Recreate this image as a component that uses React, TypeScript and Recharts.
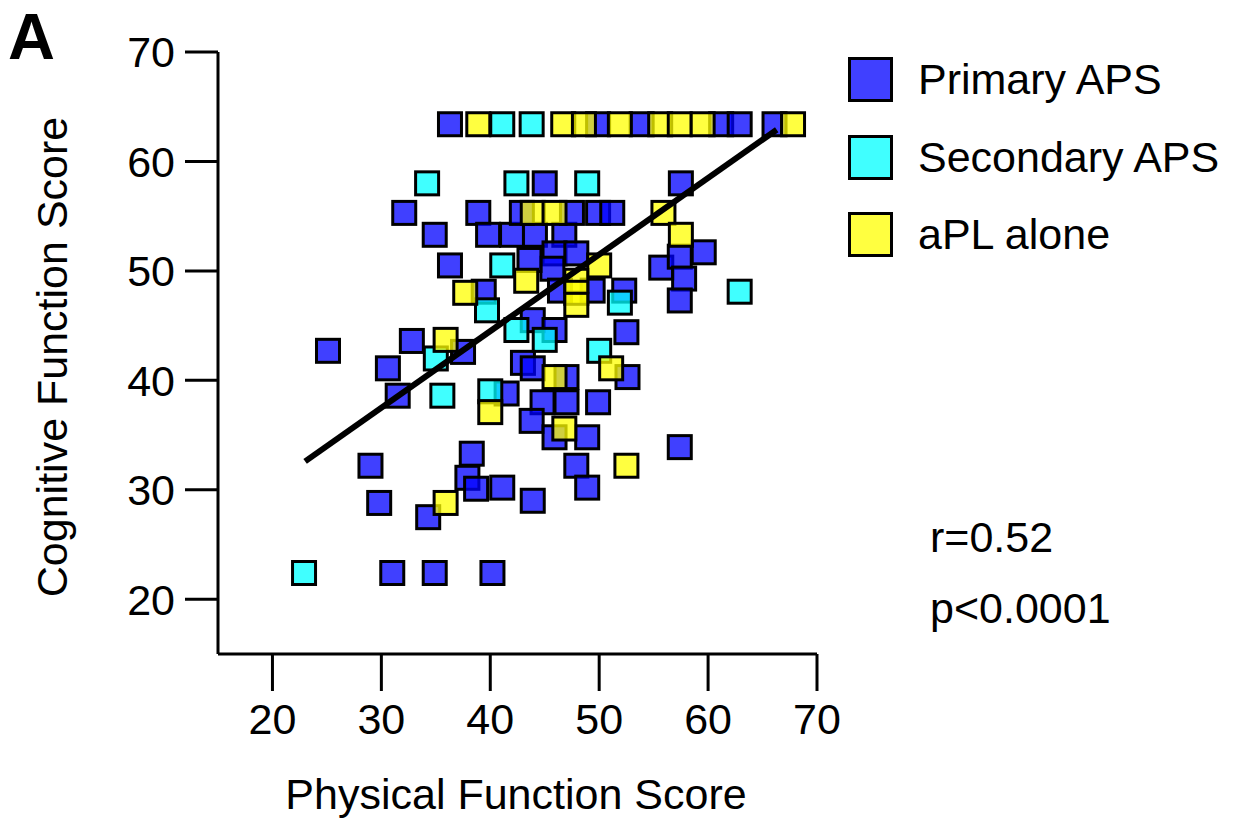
import React from 'react';
import { ScatterChart, Scatter, XAxis, YAxis } from 'recharts';

const primaryAPS = [
  { x: 36.3, y: 63.4 }, { x: 49.9, y: 63.4 }, { x: 53.9, y: 63.4 }, { x: 61.2, y: 63.4 }, { x: 62.9, y: 63.4 }, { x: 66.1, y: 63.4 },
  { x: 32.1, y: 55.3 }, { x: 38.9, y: 55.3 }, { x: 34.9, y: 53.3 }, { x: 45.0, y: 58.0 }, { x: 57.5, y: 58.0 },
  { x: 39.8, y: 53.3 }, { x: 42.0, y: 53.3 }, { x: 44.1, y: 53.3 }, { x: 46.8, y: 53.3 },
  { x: 42.9, y: 55.3 }, { x: 47.5, y: 55.3 }, { x: 49.9, y: 55.3 }, { x: 51.2, y: 55.3 },
  { x: 45.9, y: 51.6 }, { x: 47.9, y: 51.6 }, { x: 45.7, y: 50.2 }, { x: 43.6, y: 51.0 },
  { x: 46.4, y: 48.2 }, { x: 49.4, y: 48.2 }, { x: 52.3, y: 48.2 },
  { x: 59.6, y: 51.7 }, { x: 55.7, y: 50.3 }, { x: 57.4, y: 51.3 }, { x: 57.8, y: 49.3 }, { x: 57.4, y: 47.3 },
  { x: 36.3, y: 50.5 }, { x: 39.4, y: 48.1 },
  { x: 32.8, y: 43.6 }, { x: 37.5, y: 42.6 }, { x: 30.6, y: 41.1 }, { x: 31.5, y: 38.6 },
  { x: 41.5, y: 38.8 }, { x: 43.0, y: 41.6 }, { x: 43.9, y: 41.1 }, { x: 43.9, y: 45.5 }, { x: 45.9, y: 44.6 },
  { x: 47.0, y: 40.3 }, { x: 44.8, y: 38.0 }, { x: 47.0, y: 38.0 }, { x: 43.8, y: 36.3 },
  { x: 45.9, y: 34.8 }, { x: 48.9, y: 34.8 }, { x: 47.9, y: 32.2 }, { x: 48.9, y: 30.2 }, { x: 43.9, y: 29.0 },
  { x: 52.5, y: 44.4 }, { x: 52.6, y: 40.3 }, { x: 49.9, y: 38.0 }, { x: 57.4, y: 33.9 },
  { x: 25.1, y: 42.7 }, { x: 29.0, y: 32.2 }, { x: 29.8, y: 28.8 }, { x: 34.3, y: 27.5 },
  { x: 38.3, y: 33.3 }, { x: 37.9, y: 31.1 }, { x: 41.1, y: 30.2 }, { x: 38.7, y: 30.1 },
  { x: 31.0, y: 22.4 }, { x: 34.9, y: 22.4 }, { x: 40.2, y: 22.4 },
];

const secondaryAPS = [
  { x: 41.1, y: 63.4 }, { x: 43.8, y: 63.4 },
  { x: 34.2, y: 58.0 }, { x: 42.4, y: 58.0 }, { x: 48.9, y: 58.0 },
  { x: 41.1, y: 50.5 }, { x: 39.7, y: 46.4 }, { x: 35.0, y: 42.0 }, { x: 35.6, y: 38.6 },
  { x: 40.0, y: 39.0 }, { x: 42.4, y: 44.6 }, { x: 45.0, y: 43.7 }, { x: 50.0, y: 42.7 },
  { x: 51.9, y: 47.1 }, { x: 62.9, y: 48.1 }, { x: 22.9, y: 22.4 },
];

const aPLAlone = [
  { x: 38.9, y: 63.4 }, { x: 46.7, y: 63.4 }, { x: 48.6, y: 63.4 }, { x: 51.9, y: 63.4 }, { x: 55.6, y: 63.4 },
  { x: 57.4, y: 63.4 }, { x: 59.5, y: 63.4 }, { x: 67.8, y: 63.4 },
  { x: 43.9, y: 55.3 }, { x: 45.9, y: 55.3 }, { x: 55.9, y: 55.3 }, { x: 57.5, y: 53.3 },
  { x: 50.0, y: 50.5 }, { x: 43.3, y: 49.1 }, { x: 37.7, y: 48.0 },
  { x: 47.9, y: 49.1 }, { x: 47.9, y: 48.0 }, { x: 47.9, y: 46.9 },
  { x: 35.9, y: 43.7 }, { x: 40.0, y: 37.1 }, { x: 45.9, y: 40.3 }, { x: 51.1, y: 41.1 },
  { x: 46.8, y: 35.6 }, { x: 52.5, y: 32.2 }, { x: 35.9, y: 28.8 },
];

const regressionLine = [
  { x: 23.0, y: 32.6 },
  { x: 66.3, y: 62.9 },
];

const xTicks = [20, 30, 40, 50, 60, 70];
const yTicks = [20, 30, 40, 50, 60, 70];

const seriesInfo = [
  { name: 'Primary APS', color: '#0000ff' },
  { name: 'Secondary APS', color: '#00ffff' },
  { name: 'aPL alone', color: '#ffff00' },
];

const stats = ['r=0.52', 'p<0.0001'];

const FONT = '"Liberation Sans", Arial, Helvetica, sans-serif';

const makeSquare = (color: string) => (props: any) => {
  const { cx, cy } = props;
  if (cx == null || cy == null) return null;
  return (
    <rect
      x={cx - 11.5}
      y={cy - 11.5}
      width={23}
      height={23}
      fill={color}
      fillOpacity={0.75}
      stroke="#000"
      strokeWidth={3}
    />
  );
};

const XTitle = () => (
  <text x={516} y={809} textAnchor="middle" fontSize={43} fontFamily={FONT} fill="#000">
    Physical Function Score
  </text>
);

const YTitle = () => (
  <text
    x={67}
    y={357}
    transform="rotate(-90 67 357)"
    textAnchor="middle"
    fontSize={43}
    fontFamily={FONT}
    fill="#000"
  >
    Cognitive Function Score
  </text>
);

export default function App() {
  return (
    <div style={{ position: 'absolute', left: 0, top: 0, width: 1233, height: 820, background: '#fff' }}>
      <ScatterChart
        width={1233}
        height={820}
        margin={{ top: 52, right: 416, bottom: 66, left: 118 }}
      >
        <XAxis
          type="number"
          dataKey="x"
          domain={[15, 70]}
          ticks={xTicks}
          allowDataOverflow
          height={100}
          tickSize={37}
          tickMargin={12}
          axisLine={{ stroke: '#000', strokeWidth: 3 }}
          tickLine={{ stroke: '#000', strokeWidth: 3 }}
          tick={{ fill: '#000', fontSize: 43, fontFamily: FONT }}
          label={<XTitle />}
        />
        <YAxis
          type="number"
          dataKey="y"
          domain={[15, 70]}
          ticks={yTicks}
          allowDataOverflow
          width={100}
          tickSize={33}
          tickMargin={10}
          axisLine={{ stroke: '#000', strokeWidth: 3 }}
          tickLine={{ stroke: '#000', strokeWidth: 3 }}
          tick={{ fill: '#000', fontSize: 43, fontFamily: FONT }}
          label={<YTitle />}
        />
        <Scatter name="Primary APS" data={primaryAPS} shape={makeSquare('#0000ff')} isAnimationActive={false} />
        <Scatter name="Secondary APS" data={secondaryAPS} shape={makeSquare('#00ffff')} isAnimationActive={false} />
        <Scatter name="aPL alone" data={aPLAlone} shape={makeSquare('#ffff00')} isAnimationActive={false} />
        <Scatter
          name="fit"
          data={regressionLine}
          line={{ stroke: '#000', strokeWidth: 6 }}
          shape={() => null}
          legendType="none"
          isAnimationActive={false}
        />
      </ScatterChart>
      <div style={{ position: 'absolute', left: 848, top: 41, fontFamily: FONT }}>
        {seriesInfo.map((s) => (
          <div key={s.name} style={{ display: 'flex', alignItems: 'center', height: 77.5 }}>
            <div
              style={{
                width: 39,
                height: 39,
                border: '3px solid #000',
                background: s.color,
                boxSizing: 'content-box',
              }}
            >
              <div style={{ width: '100%', height: '100%', background: 'rgba(255,255,255,0.25)' }} />
            </div>
            <span style={{ marginLeft: 25, fontSize: 43, lineHeight: '43px', color: '#000', whiteSpace: 'nowrap' }}>
              {s.name}
            </span>
          </div>
        ))}
      </div>
      <div
        style={{
          position: 'absolute',
          left: 8,
          top: 4,
          fontFamily: FONT,
          fontWeight: 'bold',
          fontSize: 65,
          lineHeight: '65px',
          color: '#000',
        }}
      >
        A
      </div>
      {stats.map((t, i) => (
        <div
          key={t}
          style={{
            position: 'absolute',
            left: 930,
            top: 516 + i * 71,
            fontFamily: FONT,
            fontSize: 43,
            lineHeight: '43px',
            color: '#000',
            whiteSpace: 'nowrap',
          }}
        >
          {t}
        </div>
      ))}
    </div>
  );
}
